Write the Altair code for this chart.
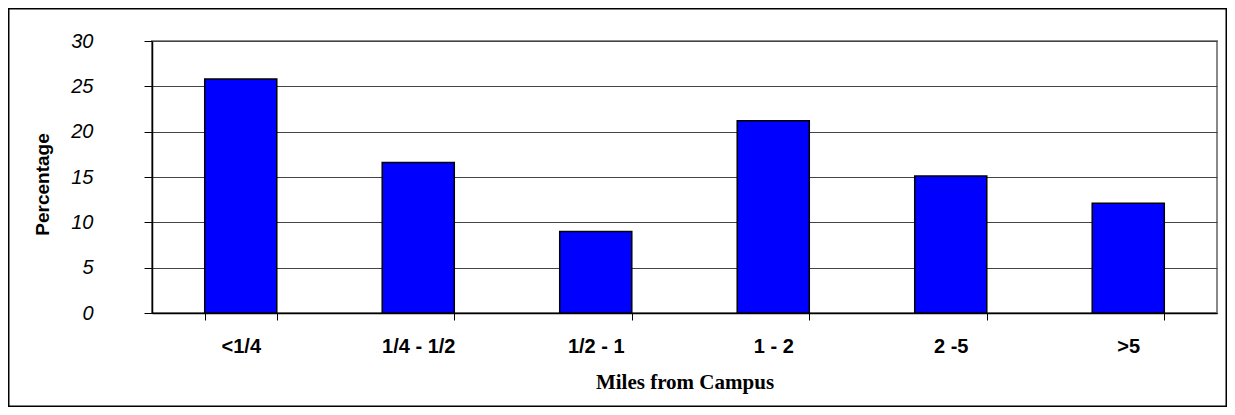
import altair as alt
import pandas as pd

categories = ["<1/4", "1/4 - 1/2", "1/2 - 1", "1 - 2", "2 -5", ">5"]
values = [25.8, 16.6, 9.0, 21.2, 15.1, 12.1]
y_ticks = [0, 5, 10, 15, 20, 25, 30]

df = pd.DataFrame({"cat": categories, "pct": values})

W, H = 1065, 272
PL, PT, PR, PB = 144, 33, 10, 94

bars = alt.Chart(df).mark_bar(
    color="#0000FF", stroke="#000000", strokeWidth=1.5
).encode(
    x=alt.X("cat:N", sort=categories,
            scale=alt.Scale(paddingInner=0.594, paddingOuter=0.297),
            axis=alt.Axis(title="Miles from Campus", labelAngle=0,
                          labelFont="Liberation Sans", labelFontSize=20,
                          labelFontWeight="bold", labelColor="#000000",
                          labelPadding=16, tickBand="extent", tickSize=7,
                          tickColor="#000000", domainColor="#000000",
                          domainWidth=1.5, grid=False,
                          titleFont="Liberation Serif", titleFontSize=21,
                          titleFontWeight="bold", titleColor="#000000",
                          titlePadding=15)),
    y=alt.Y("pct:Q", scale=alt.Scale(domain=[0, 30], nice=False),
            axis=alt.Axis(title="Percentage", values=y_ticks,
                          labelFont="Liberation Sans", labelFontSize=20,
                          labelFontStyle="italic", labelColor="#000000",
                          labelPadding=51, tickSize=8, tickColor="#000000",
                          domainColor="#000000", domainWidth=1.5,
                          gridColor="#444444", gridWidth=1,
                          titleFont="Liberation Sans", titleFontSize=19,
                          titleFontWeight="bold", titleColor="#000000",
                          titleAngle=-90, titleX=-110, titleY=143,
                          titleAlign="center", titleBaseline="middle")),
)

border = alt.Chart(pd.DataFrame({"a": [0]})).mark_rect(
    filled=False, stroke="#000000", strokeWidth=1.5
).encode(
    x=alt.value(-PL + 0.75), x2=alt.value(W + PR - 0.75),
    y=alt.value(-PT + 0.75), y2=alt.value(H + PB - 0.75),
)

chart = alt.layer(bars, border).properties(
    width=W, height=H,
    autosize=alt.AutoSizeParams(type="none"),
    padding={"left": PL, "top": PT, "right": PR, "bottom": PB},
    background="#FFFFFF",
).configure_view(stroke="#888888", strokeWidth=2)

chart.save("out.html", embed_options={"renderer": "svg", "actions": False})
